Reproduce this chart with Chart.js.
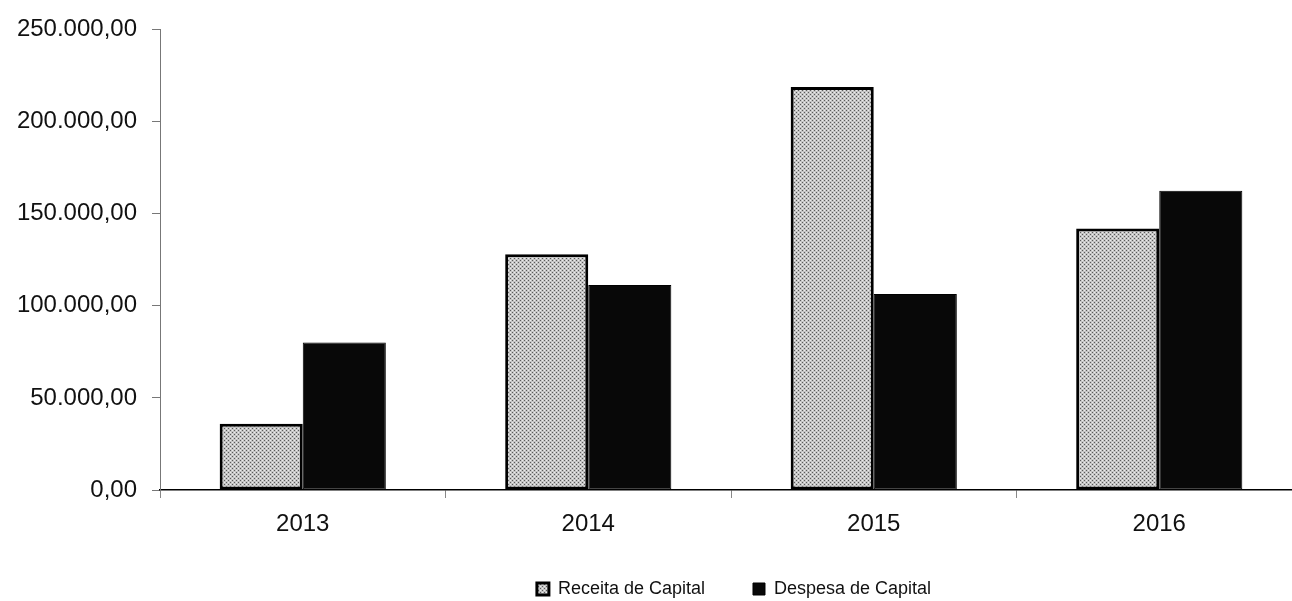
<!DOCTYPE html>
<html>
<head>
<meta charset="utf-8">
<script src="https://cdn.jsdelivr.net/npm/chart.js@4/dist/chart.umd.min.js"></script>
<style>
    body { margin: 0; background: #fff; overflow: hidden; }
    #wrap { width: 1302px; height: 601px; }
</style>
</head>
<body>
<div id="wrap"><canvas id="barras"></canvas></div>
<script>
const anos = ["2013", "2014", "2015", "2016"];
const receitaCapital = [36000, 128000, 218800, 141900];
const despesaCapital = [80100, 111300, 106400, 162400];
const nomesSeries = ["Receita de Capital", "Despesa de Capital"];

//formato brasileiro: 250.000,00
function formatNumber(v) {
    let [inteiro, dec] = v.toFixed(2).split(".");
    return inteiro.replace(/\B(?=(\d{3})+(?!\d))/g, ".") + "," + dec;
}

//textura pontilhada do cinza
function pontilhado() {
    let c = document.createElement("canvas");
    c.width = 4;
    c.height = 4;
    let ctx = c.getContext("2d");
    ctx.fillStyle = "#c4c4c4";
    ctx.fillRect(0, 0, 4, 4);
    ctx.fillStyle = "#5a5a5a";
    ctx.fillRect(0, 0, 1, 1);
    ctx.fillRect(2, 2, 1, 1);
    ctx.fillStyle = "#ececec";
    ctx.fillRect(2, 0, 1, 1);
    ctx.fillRect(0, 2, 1, 1);
    return ctx.createPattern(c, "repeat");
}

//legenda deslocada (direita e para baixo) como no original
const moveLegenda = {
    id: "moveLegenda",
    afterLayout(chart) {
        let lg = chart.legend;
        lg.left += 83;
        lg.right += 83;
        lg.bottom = lg.top + 80;
    }
};

new Chart(document.getElementById("barras"), {
    type: "bar",
    data: {
        labels: anos,
        datasets: [
            {
                label: nomesSeries[0],
                data: receitaCapital,
                backgroundColor: pontilhado(),
                borderColor: "#000",
                borderWidth: 3,
                borderSkipped: false,
            },
            {
                label: nomesSeries[1],
                data: despesaCapital,
                backgroundColor: "#080808",
                borderColor: "#000",
                borderWidth: 1,
                borderSkipped: false,
            }
        ]
    },
    options: {
        responsive: true,
        maintainAspectRatio: false,
        animation: false,
        layout: { padding: { top: 25, bottom: 29, left: 0, right: 0 } },
        datasets: {
            bar: { categoryPercentage: 0.582, barPercentage: 1 }
        },
        scales: {
            x: {
                grid: { drawOnChartArea: false, tickLength: 8, color: "#888", offset: true },
                border: { color: "#000", width: 1.5 },
                ticks: { color: "#111", padding: 12, font: { family: "Liberation Sans, Arial", size: 24 } },
                afterFit: (scale) => { scale.height = 42; }
            },
            y: {
                min: 0,
                max: 250000,
                grid: { drawOnChartArea: false, tickLength: 8, color: "#777" },
                border: { color: "#777", width: 1, dash: [2, 3] },
                ticks: {
                    stepSize: 50000,
                    color: "#111",
                    padding: 15,
                    font: { family: "Liberation Sans, Arial", size: 24 },
                    callback: (v) => formatNumber(v)
                },
                afterFit: (scale) => { scale.width = 160; }
            }
        },
        plugins: {
            legend: {
                display: true,
                position: "bottom",
                maxHeight: 40,
                labels: {
                    color: "#111",
                    boxWidth: 12,
                    boxHeight: 12,
                    padding: 48,
                    font: { family: "Liberation Sans, Arial", size: 18 }
                }
            },
            tooltip: { enabled: false }
        }
    },
    plugins: [moveLegenda]
});
</script>
</body>
</html>
